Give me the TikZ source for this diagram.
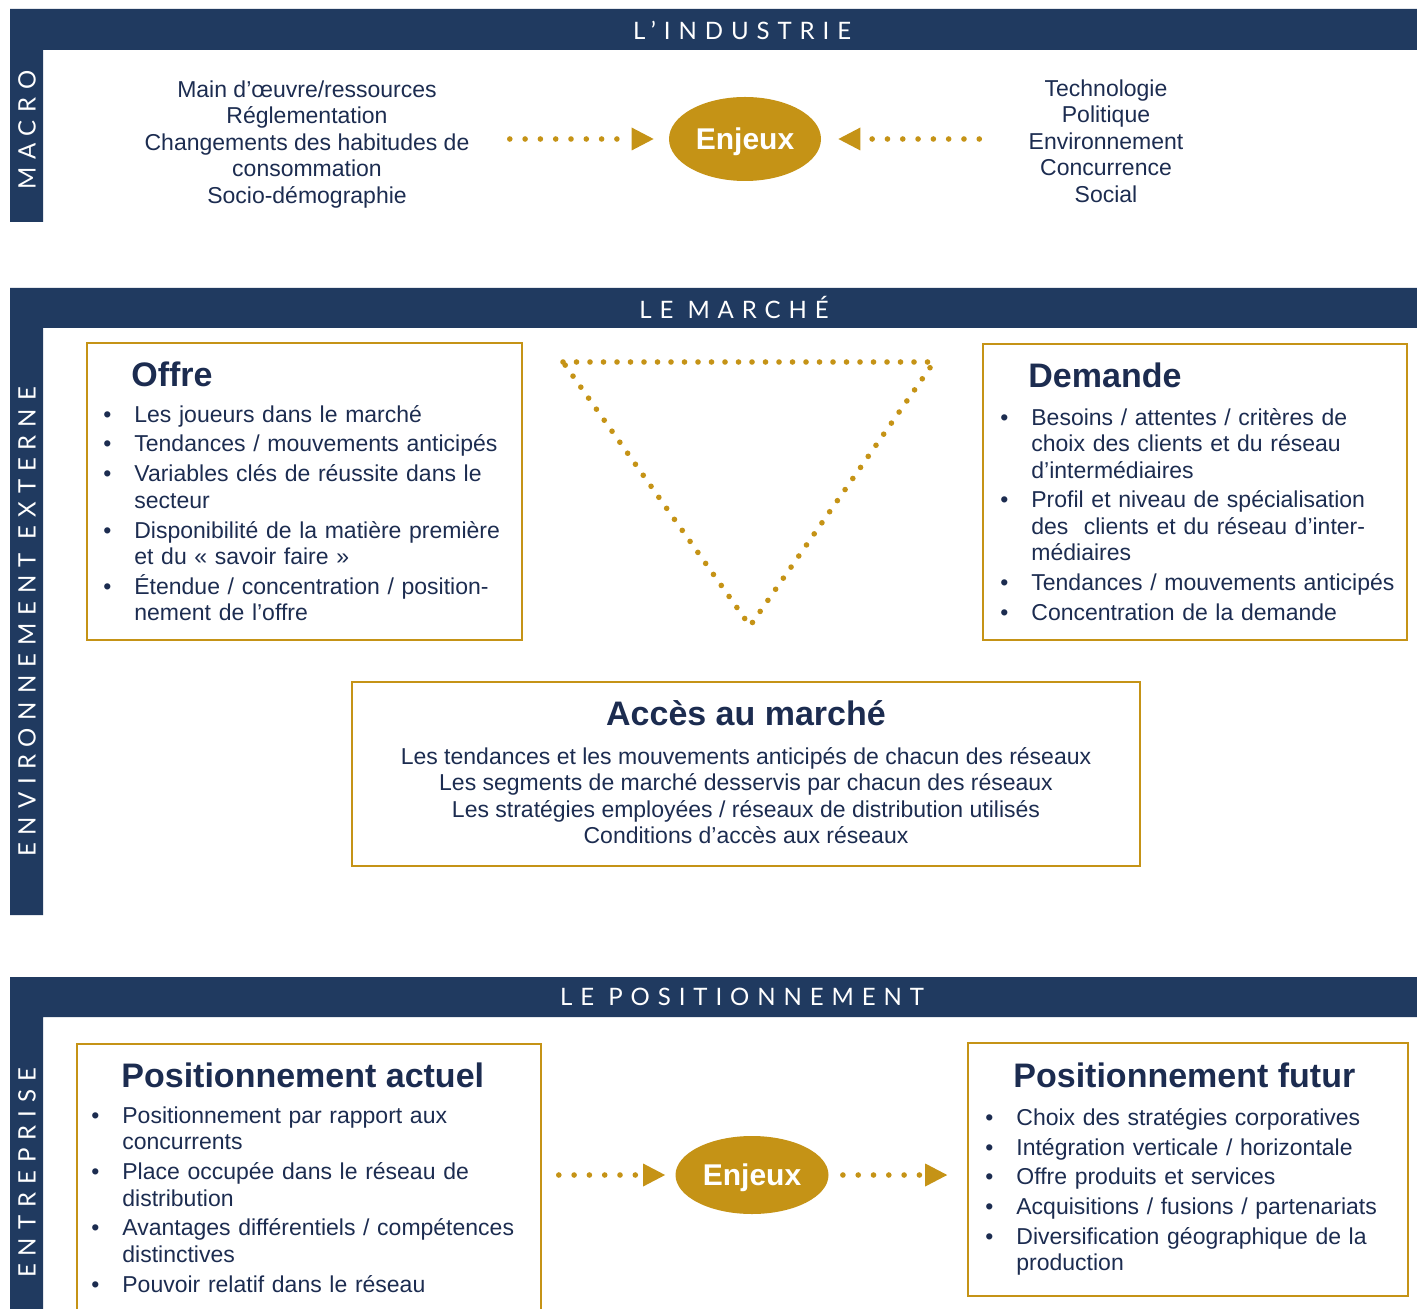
\documentclass[tikz,border=0pt]{standalone}
\usepackage{fontspec}
\setmainfont{Liberation Sans}
\newfontfamily\bandeau[LetterSpace=33]{Lato}
\usetikzlibrary{shapes.geometric,arrows.meta}
\usepackage{xcolor}
\definecolor{marine}{HTML}{203A60}
\definecolor{dore}{HTML}{C59316}
\definecolor{encre}{HTML}{1C2C50}
\newcommand{\puce}[1]{\par\hangindent=15.5pt\hangafter=1\noindent\makebox[15.5pt][l]{\textbullet}\rule{0pt}{10pt}#1\par}

\begin{document}
\begin{tikzpicture}[x=0.5pt,y=-0.5pt,
  bande/.style={fill=marine},
  titrebande/.style={text=white,font=\bandeau\fontsize{12}{14}\selectfont,inner sep=0},
  cadre/.style={draw=dore,line width=0.8pt,inner sep=0},
  titre/.style={text=encre,font=\bfseries\fontsize{17}{20}\selectfont,inner sep=0},
  liste/.style={text=encre,font=\fontsize{11.5}{13.25}\selectfont,inner sep=0,anchor=north west,align=left,text width=#1,
    execute at begin node={\setlength{\parskip}{1.65pt}}},
  centre/.style={text=encre,font=\fontsize{11.5}{13.25}\selectfont,inner sep=0,anchor=north,align=center},
  enjeux/.style={ellipse,fill=dore,text=white,font=\bfseries\fontsize{15}{18}\selectfont,inner sep=0},
  pointille/.style={draw=dore,line width=2.8pt,line cap=round,dash pattern=on 0pt off 6.75pt},
  fleche/.style={draw=dore,line width=2.8pt,line cap=round,dash pattern=on 0pt off 7.65pt,
    -{Triangle[length=11pt,width=11.5pt,line width=0pt]}}]
\useasboundingbox (0,0) rectangle (1417,1309);
\clip (0,0) rectangle (1417,1309);

\fill[bande] (10,9) rectangle (1417,50) (10,9) rectangle (43,222);
\fill[bande] (10,288) rectangle (1417,328) (10,288) rectangle (43,915);
\fill[bande] (10,977) rectangle (1417,1017) (10,977) rectangle (43,1309);
\node[titrebande] (industrie) at (742,30) {L’INDUSTRIE};
\node[titrebande] (marche) at (734,307) {LE MARCHÉ};
\node[titrebande] (positionnement) at (742,997) {LE POSITIONNEMENT};
\node[titrebande,rotate=90] (macro) at (27,130) {MACRO};
\node[titrebande,rotate=90] (externe) at (27,622) {ENVIRONNEMENT EXTERNE};
\node[titrebande,rotate=90] (entreprise) at (27,1173) {ENTREPRISE};

\node[centre] (facteurs-g) at (307,77) {\rule{0pt}{10pt}Main d’œuvre/ressources\\Réglementation\\Changements des habitudes de\\consommation\\Socio-démographie};
\node[centre] (facteurs-d) at (1106,76) {\rule{0pt}{10pt}Technologie\\Politique\\Environnement\\Concurrence\\Social};
\node[enjeux,minimum width=76pt,minimum height=42pt] (enjeux1) at (745,139) {\raisebox{-5.3pt}[0pt][0pt]{Enjeux}};
\draw[fleche,shorten <=20pt,shorten >=7.5pt] (facteurs-g.east |- enjeux1) -- (enjeux1);
\draw[fleche,shorten <=24.5pt,shorten >=8.5pt] (facteurs-d.west |- enjeux1) -- (enjeux1);

\node[cadre,minimum width=217.5pt,minimum height=148.5pt] (offre) at (304.5,491.5) {};
\node[titre,anchor=base west] (offre-titre) at (131,387) {Offre};
\node[liste=206pt] (offre-liste) at (103,392) {\puce{Les joueurs dans le marché}\puce{Tendances / mouvements anticipés}\puce{Variables clés de réussite dans le\newline secteur}\puce{Disponibilité de la matière première\newline et du «~savoir faire~»}\puce{Étendue / concentration / position-\newline nement de l’offre}};

\node[cadre,minimum width=212pt,minimum height=148pt] (demande) at (1195,492) {};
\node[titre,anchor=base west] (demande-titre) at (1028,388) {Demande};
\node[liste=200pt] (demande-liste) at (1000,395) {\puce{Besoins / attentes / critères de\newline choix des clients et du réseau\newline d’intermédiaires}\puce{Profil et niveau de spécialisation\newline des\ \ clients et du réseau d’inter-\newline médiaires}\puce{Tendances / mouvements anticipés}\puce{Concentration de la demande}};

\draw[pointille] (563,362) -- (934,362) -- (750,626) -- cycle;

\node[cadre,minimum width=394pt,minimum height=92pt] (acces) at (746,774) {};
\node[titre,anchor=base] (acces-titre) at (746,725) {Accès au marché};
\node[centre] (acces-texte) at (746,744) {\rule{0pt}{10pt}Les tendances et les mouvements anticipés de chacun des réseaux\\Les segments de marché desservis par chacun des réseaux\\Les stratégies employées / réseaux de distribution utilisés\\Conditions d’accès aux réseaux};

\node[cadre,minimum width=232pt,minimum height=138pt] (actuel) at (309,1182) {};
\node[titre,anchor=base west] (actuel-titre) at (121,1087) {Positionnement actuel};
\node[liste=220pt] (actuel-liste) at (91,1093) {\puce{Positionnement par rapport aux\newline concurrents}\puce{Place occupée dans le réseau de\newline distribution}\puce{Avantages différentiels / compétences\newline distinctives}\puce{Pouvoir relatif dans le réseau}};

\node[cadre,minimum width=220pt,minimum height=126.5pt] (futur) at (1188,1169.5) {};
\node[titre,anchor=base west] (futur-titre) at (1013,1087) {Positionnement futur};
\node[liste=205pt] (futur-liste) at (985,1095) {\puce{Choix des stratégies corporatives}\puce{Intégration verticale / horizontale}\puce{Offre produits et services}\puce{Acquisitions / fusions / partenariats}\puce{Diversification géographique de la\newline production}};

\node[enjeux,minimum width=76.5pt,minimum height=39pt] (enjeux2) at (752,1175) {\raisebox{-5.3pt}[0pt][0pt]{Enjeux}};
\draw[fleche,shorten <=8.5pt,shorten >=5pt] (actuel.east |- enjeux2) -- (enjeux2);
\draw[fleche,shorten <=7pt,shorten >=10pt] (enjeux2) -- (futur.west |- enjeux2);
\end{tikzpicture}
\end{document}
